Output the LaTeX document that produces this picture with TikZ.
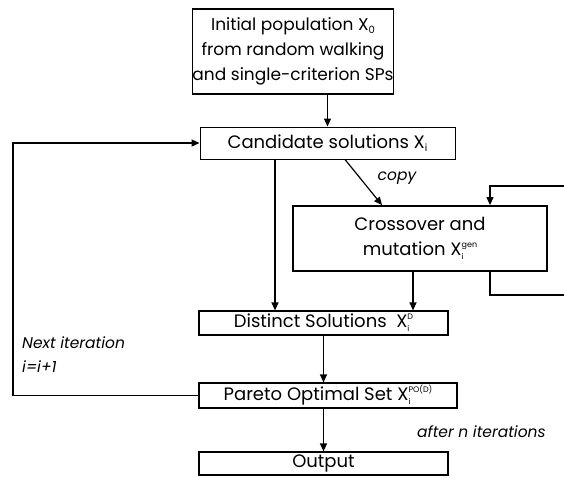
\documentclass[tikz,border=0pt]{standalone}
\usepackage{fontspec}
\setmainfont{Poppins}
\usetikzlibrary{arrows.meta}

\newcommand{\lowi}[1]{\raisebox{-3pt}{\fontsize{10}{10}\selectfont #1}}
\newcommand{\xsi}[2]{X\rlap{\raisebox{-4pt}{\fontsize{8}{8}\selectfont #1}}\raisebox{8pt}{\fontsize{8}{8}\selectfont #2}}

\tikzset{
	box/.style={draw, line width=1.2pt, inner sep=0pt, align=center, font=\fontsize{18}{25}\selectfont},
	arr/.style={line width=1.2pt, -{Triangle[length=8pt,width=7pt]}},
	lbl/.style={font=\fontsize{15.5}{24}\selectfont\itshape, inner sep=0pt},
}

\begin{document}
\begin{tikzpicture}[x=1pt,y=-1pt]
	\useasboundingbox (0,0) rectangle (564,485);

	\node[box, line width=1.6pt, minimum width=188pt, minimum height=85pt, font=\fontsize{17}{25}\selectfont] (init) at (293,51.5) {Initial population X\lowi{0}\\from random walking\\and single-criterion SPs};
	\node[box, line width=1pt, minimum width=255pt, minimum height=32pt] (cand) at (327.5,143) {Candidate solutions X\lowi{i}};
	\node[box, line width=1.8pt, minimum width=254pt, minimum height=65pt] (cross) at (420,238.5) {Crossover and\\mutation \xsi{i}{gen}};
	\node[box, minimum width=249pt, minimum height=24pt] (dist) at (323.5,323) {Distinct Solutions~ \xsi{i}{D}};
	\node[box, minimum width=258pt, minimum height=25pt] (pareto) at (328,395.5) {Pareto Optimal Set \xsi{i}{PO(D)}};
	\node[box, minimum width=249pt, minimum height=23pt] (output) at (323.5,463.5) {Output};

	\coordinate (dl) at (275,0);
	\coordinate (dr) at (413,0);
	\coordinate (cs) at (345,0);
	\coordinate (ce) at (382,0);
	\coordinate (rx) at (490,0);
	\coordinate (lp) at (13,0);
	\coordinate (rt) at (564,186);
	\coordinate (rb) at (564,295);

	\draw[arr] (init.south -| cand.north) -- (cand.north);
	\draw[arr] (cand.south -| dl) -- (dist.north -| dl);
	\draw[arr] (cand.south -| cs) -- (cross.north -| ce);
	\draw[arr] (cross.south -| dr) -- (dist.north -| dr);
	\draw[arr] (dist.south) -- (dist.south |- pareto.north);
	\draw[arr] (pareto.south -| dist.south) -- (output.north);
	\draw[arr] (pareto.west) -- (pareto.west -| lp) |- (cand.west);

	% loop on the crossover box
	\draw[arr] (rt) -| (cross.north -| rx);
	\draw[line width=1.2pt] (cross.south -| rx) |- (rb);

	\node[lbl] (copy) at (397,178) {copy};
	\node[lbl, anchor=west, align=left] (next) at (22,355) {Next iteration\\i=i+1};
	\node[lbl, anchor=west] (after) at (417,432) {after n iterations};
\end{tikzpicture}
\end{document}
